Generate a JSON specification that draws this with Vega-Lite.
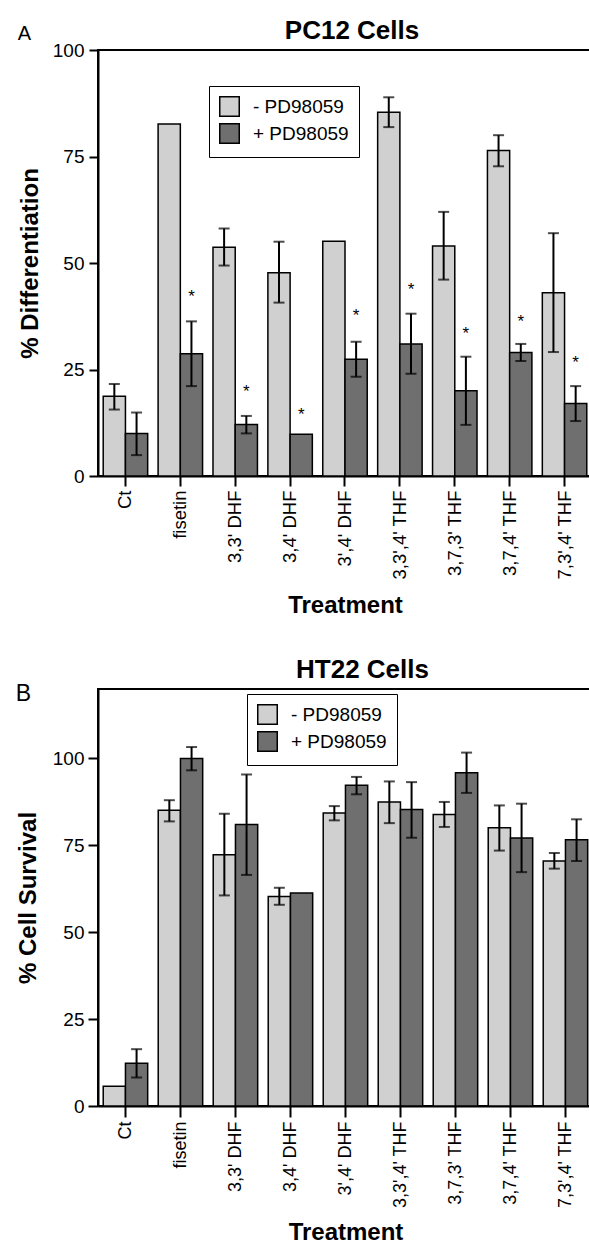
{
  "$schema": "https://vega.github.io/schema/vega-lite/v6.json",
  "padding": {"left": 15, "top": 16, "right": 0, "bottom": 0},
  "background": "white",
  "config": {
    "font": "Liberation Sans",
    "view": {"stroke": "black", "strokeWidth": 2},
    "axis": {"domainColor": "black", "domainWidth": 2, "tickColor": "black", "tickWidth": 2, "labelColor": "black", "titleColor": "black", "grid": false, "titleFontWeight": "bold", "titleFontSize": 24},
    "title": {"color": "black"}
  },
  "datasets": {
    "pc12": [
      {"treatment": "Ct", "group": "- PD98059", "value": 18.7, "lo": 15.6, "hi": 21.6},
      {"treatment": "Ct", "group": "+ PD98059", "value": 10.0, "lo": 4.9, "hi": 14.9},
      {"treatment": "fisetin", "group": "- PD98059", "value": 82.6},
      {"treatment": "fisetin", "group": "+ PD98059", "value": 28.7, "lo": 21.1, "hi": 36.3, "star": 43.2},
      {"treatment": "3,3' DHF", "group": "- PD98059", "value": 53.7, "lo": 49.4, "hi": 58.1},
      {"treatment": "3,3' DHF", "group": "+ PD98059", "value": 12.1, "lo": 10.0, "hi": 14.1, "star": 20.8},
      {"treatment": "3,4' DHF", "group": "- PD98059", "value": 47.7, "lo": 40.7, "hi": 55.0},
      {"treatment": "3,4' DHF", "group": "+ PD98059", "value": 9.8, "star": 15.5},
      {"treatment": "3',4' DHF", "group": "- PD98059", "value": 55.1},
      {"treatment": "3',4' DHF", "group": "+ PD98059", "value": 27.4, "lo": 23.3, "hi": 31.5, "star": 38.7},
      {"treatment": "3,3',4' THF", "group": "- PD98059", "value": 85.4, "lo": 81.9, "hi": 88.9},
      {"treatment": "3,3',4' THF", "group": "+ PD98059", "value": 31.0, "lo": 24.0, "hi": 38.1, "star": 44.8},
      {"treatment": "3,7,3' THF", "group": "- PD98059", "value": 54.0, "lo": 46.1, "hi": 62.0},
      {"treatment": "3,7,3' THF", "group": "+ PD98059", "value": 20.0, "lo": 12.0, "hi": 28.0, "star": 34.4},
      {"treatment": "3,7,4' THF", "group": "- PD98059", "value": 76.4, "lo": 72.7, "hi": 80.0},
      {"treatment": "3,7,4' THF", "group": "+ PD98059", "value": 29.0, "lo": 27.0, "hi": 31.0, "star": 37.3},
      {"treatment": "7,3',4' THF", "group": "- PD98059", "value": 43.0, "lo": 29.1, "hi": 57.0},
      {"treatment": "7,3',4' THF", "group": "+ PD98059", "value": 17.0, "lo": 12.9, "hi": 21.1, "star": 27.8}
    ],
    "ht22": [
      {"treatment": "Ct", "group": "- PD98059", "value": 5.7},
      {"treatment": "Ct", "group": "+ PD98059", "value": 12.3, "lo": 8.2, "hi": 16.35},
      {"treatment": "fisetin", "group": "- PD98059", "value": 85.1, "lo": 81.9, "hi": 88.0},
      {"treatment": "fisetin", "group": "+ PD98059", "value": 100.0, "lo": 96.6, "hi": 103.3},
      {"treatment": "3,3' DHF", "group": "- PD98059", "value": 72.3, "lo": 60.6, "hi": 84.1},
      {"treatment": "3,3' DHF", "group": "+ PD98059", "value": 81.0, "lo": 66.5, "hi": 95.4},
      {"treatment": "3,4' DHF", "group": "- PD98059", "value": 60.3, "lo": 57.9, "hi": 62.8},
      {"treatment": "3,4' DHF", "group": "+ PD98059", "value": 61.3},
      {"treatment": "3',4' DHF", "group": "- PD98059", "value": 84.3, "lo": 82.2, "hi": 86.3},
      {"treatment": "3',4' DHF", "group": "+ PD98059", "value": 92.3, "lo": 89.7, "hi": 94.7},
      {"treatment": "3,3',4' THF", "group": "- PD98059", "value": 87.5, "lo": 81.4, "hi": 93.4},
      {"treatment": "3,3',4' THF", "group": "+ PD98059", "value": 85.3, "lo": 77.2, "hi": 93.2},
      {"treatment": "3,7,3' THF", "group": "- PD98059", "value": 83.9, "lo": 80.3, "hi": 87.5},
      {"treatment": "3,7,3' THF", "group": "+ PD98059", "value": 95.9, "lo": 90.1, "hi": 101.7},
      {"treatment": "3,7,4' THF", "group": "- PD98059", "value": 80.1, "lo": 73.5, "hi": 86.5},
      {"treatment": "3,7,4' THF", "group": "+ PD98059", "value": 77.1, "lo": 67.3, "hi": 87.0},
      {"treatment": "7,3',4' THF", "group": "- PD98059", "value": 70.5, "lo": 68.3, "hi": 72.8},
      {"treatment": "7,3',4' THF", "group": "+ PD98059", "value": 76.6, "lo": 70.5, "hi": 82.5}
    ]
  },
  "spacing": 36,
  "resolve": {"scale": {"color": "independent"}, "legend": {"color": "independent"}},
  "vconcat": [
    {
      "title": {"text": "A", "anchor": "start", "frame": "bounds", "fontSize": 20, "fontWeight": "normal", "offset": -27},
      "resolve": {"scale": {"color": "independent"}, "legend": {"color": "independent"}},
      "vconcat": [
        {
          "width": 494,
          "height": 426,
          "title": {"text": "PC12 Cells", "fontSize": 26, "fontWeight": "bold", "anchor": "middle", "frame": "group", "offset": -2.6, "dx": 7},
          "data": {"name": "pc12"},
          "encoding": {
            "x": {"field": "treatment", "type": "nominal", "sort": ["Ct", "fisetin", "3,3' DHF", "3,4' DHF", "3',4' DHF", "3,3',4' THF", "3,7,3' THF", "3,7,4' THF", "7,3',4' THF"], "scale": {"paddingInner": 0.19, "paddingOuter": 0.095}, "axis": {"title": "Treatment", "labelAngle": 270, "labelFontSize": 18.5, "labelPadding": 4, "tickSize": 10, "titlePadding": 14.3, "labelLimit": 0}},
            "xOffset": {"field": "group", "type": "nominal", "sort": ["- PD98059", "+ PD98059"], "scale": {"paddingInner": 0, "paddingOuter": 0}}
          },
          "layer": [
            {
              "mark": {"type": "bar", "stroke": "black", "strokeWidth": 1.5},
              "encoding": {
                "y": {"field": "value", "type": "quantitative", "scale": {"domain": [0, 100]}, "axis": {"title": "% Differentiation", "values": [0, 25, 50, 75, 100], "tickSize": 9, "labelFontSize": 19, "labelPadding": 5, "titlePadding": 9.5}},
                "color": {"field": "group", "type": "nominal", "scale": {"domain": ["- PD98059", "+ PD98059"], "range": ["#d0d0d0", "#6f6f6f"]}, "legend": {"title": null, "orient": "none", "legendX": 111, "legendY": 36, "direction": "vertical", "symbolType": "square", "symbolSize": 380, "symbolStrokeColor": "black", "symbolStrokeWidth": 1.5, "symbolOpacity": 1, "labelFontSize": 19, "labelColor": "black", "labelOffset": 13, "rowPadding": 0, "padding": 10, "strokeColor": "black", "fillColor": "white"}}
              }
            },
            {
              "transform": [{"filter": "datum.hi != null"}],
              "mark": {"type": "rule", "color": "black", "strokeWidth": 2},
              "encoding": {"y": {"field": "lo", "type": "quantitative"}, "y2": {"field": "hi"}}
            },
            {
              "transform": [{"filter": "datum.hi != null"}],
              "mark": {"type": "tick", "color": "black", "thickness": 2, "size": 11, "orient": "horizontal"},
              "encoding": {"y": {"field": "lo", "type": "quantitative"}}
            },
            {
              "transform": [{"filter": "datum.hi != null"}],
              "mark": {"type": "tick", "color": "black", "thickness": 2, "size": 11, "orient": "horizontal"},
              "encoding": {"y": {"field": "hi", "type": "quantitative"}}
            },
            {
              "transform": [{"filter": "datum.star != null"}],
              "mark": {"type": "text", "text": "*", "fontSize": 17, "baseline": "alphabetic", "dy": 10, "color": "black"},
              "encoding": {"y": {"field": "star", "type": "quantitative"}}
            }
          ]
        }
      ]
    },
    {
      "title": {"text": "B", "anchor": "start", "frame": "bounds", "fontSize": 23, "fontWeight": "normal", "offset": -50},
      "resolve": {"scale": {"color": "independent"}, "legend": {"color": "independent"}},
      "vconcat": [
        {
          "width": 495,
          "height": 417,
          "title": {"text": "HT22 Cells", "fontSize": 26, "fontWeight": "bold", "anchor": "middle", "frame": "group", "offset": 6.5, "dx": 17},
          "data": {"name": "ht22"},
          "encoding": {
            "x": {"field": "treatment", "type": "nominal", "sort": ["Ct", "fisetin", "3,3' DHF", "3,4' DHF", "3',4' DHF", "3,3',4' THF", "3,7,3' THF", "3,7,4' THF", "7,3',4' THF"], "scale": {"paddingInner": 0.19, "paddingOuter": 0.095}, "axis": {"title": "Treatment", "labelAngle": 270, "labelFontSize": 18, "labelPadding": 4, "tickSize": 11, "titlePadding": 13, "labelLimit": 0}},
            "xOffset": {"field": "group", "type": "nominal", "sort": ["- PD98059", "+ PD98059"], "scale": {"paddingInner": 0, "paddingOuter": 0}}
          },
          "layer": [
            {
              "mark": {"type": "bar", "stroke": "black", "strokeWidth": 1.5},
              "encoding": {
                "y": {"field": "value", "type": "quantitative", "scale": {"domain": [0, 120]}, "axis": {"title": "% Cell Survival", "values": [0, 25, 50, 75, 100], "tickSize": 10, "labelFontSize": 19, "labelPadding": 4, "titlePadding": 11.5}},
                "color": {"field": "group", "type": "nominal", "scale": {"domain": ["- PD98059", "+ PD98059"], "range": ["#d0d0d0", "#6f6f6f"]}, "legend": {"title": null, "orient": "none", "legendX": 149, "legendY": 5, "direction": "vertical", "symbolType": "square", "symbolSize": 380, "symbolStrokeColor": "black", "symbolStrokeWidth": 1.5, "symbolOpacity": 1, "labelFontSize": 19, "labelColor": "black", "labelOffset": 13, "rowPadding": 0, "padding": 10, "strokeColor": "black", "fillColor": "white"}}
              }
            },
            {
              "transform": [{"filter": "datum.hi != null"}],
              "mark": {"type": "rule", "color": "black", "strokeWidth": 2},
              "encoding": {"y": {"field": "lo", "type": "quantitative"}, "y2": {"field": "hi"}}
            },
            {
              "transform": [{"filter": "datum.hi != null"}],
              "mark": {"type": "tick", "color": "black", "thickness": 2, "size": 11, "orient": "horizontal"},
              "encoding": {"y": {"field": "lo", "type": "quantitative"}}
            },
            {
              "transform": [{"filter": "datum.hi != null"}],
              "mark": {"type": "tick", "color": "black", "thickness": 2, "size": 11, "orient": "horizontal"},
              "encoding": {"y": {"field": "hi", "type": "quantitative"}}
            }
          ]
        }
      ]
    }
  ]
}
